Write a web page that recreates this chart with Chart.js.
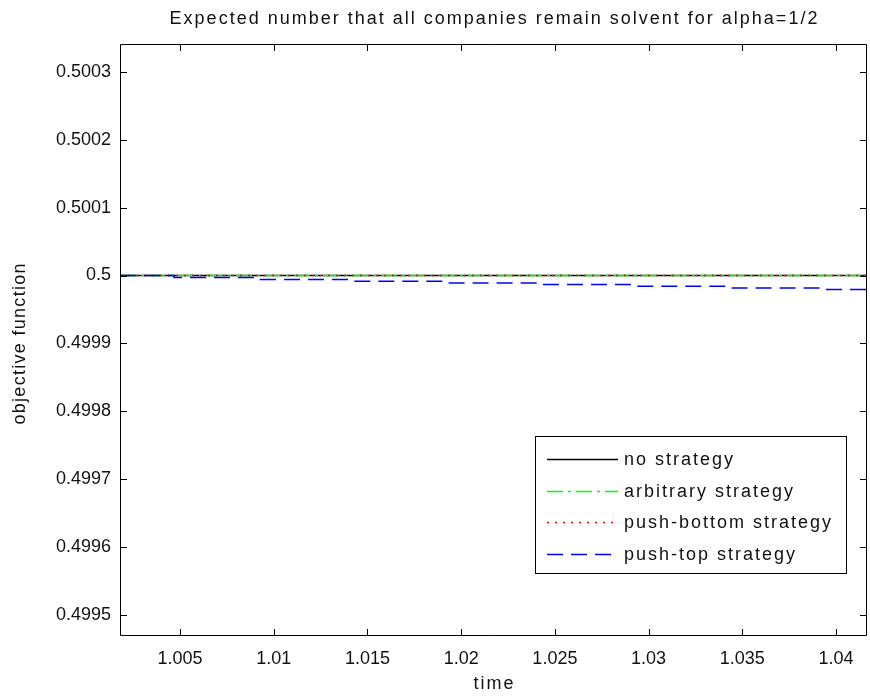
<!DOCTYPE html>
<html>
<head>
<meta charset="utf-8">
<script src="https://cdn.jsdelivr.net/npm/chart.js@4/dist/chart.umd.min.js"></script>
<style>
  html, body { margin: 0; padding: 0; background: #fff; }
  #wrap { width: 870px; height: 696px; }
</style>
</head>
<body>
<div id="wrap"><canvas id="c" width="870" height="696"></canvas></div>
<script>
// ---- data ----
const titleText = 'Expected number that all companies remain solvent for alpha=1/2';
const xAxisLabel = 'time';
const yAxisLabel = 'objective function';
const xRange = [1.0018, 1.04165];
const yRange = [0.499469, 0.500341];

const flatTimes = [1.0018, 1.04165];
const noStrategy = [0.5, 0.5];
const arbitraryStrategy = [0.5, 0.5];
const pushBottomStrategy = [0.5, 0.5];

const pushTopTimes = [1.0018, 1.00468, 1.00927, 1.01418, 1.01914, 1.02426, 1.02917, 1.0343, 1.03942, 1.04165];
const pushTopStrategy = [0.5, 0.4999971, 0.4999941, 0.4999916, 0.4999891, 0.4999867, 0.4999842, 0.4999817, 0.4999794, 0.4999794];

const xTicks = [1.005, 1.01, 1.015, 1.02, 1.025, 1.03, 1.035, 1.04];
const yTicks = [0.4995, 0.4996, 0.4997, 0.4998, 0.4999, 0.5, 0.5001, 0.5002, 0.5003];

const seriesLabels = ['no strategy', 'arbitrary strategy', 'push-bottom strategy', 'push-top strategy'];

const pairs = (xs, ys) => xs.map((x, i) => ({ x: x, y: ys[i] }));
const fmt = (v, d) => String(parseFloat(Number(v).toFixed(d)));

const FONT = 'Arial, "Liberation Sans", Helvetica, sans-serif';
const TXT = '#111';
const TEXT_FONT = '18px ' + FONT;

// draw a string with extra spacing between characters
function spacedText(ctx, text, x, y, align, spacing) {
  const chars = Array.from(text);
  const widths = chars.map(ch => ctx.measureText(ch).width);
  const total = widths.reduce((a, b) => a + b, 0) + spacing * (widths.length - 1);
  let cx = align === 'center' ? x - total / 2 : x;
  ctx.textAlign = 'left';
  chars.forEach((ch, i) => {
    ctx.fillText(ch, cx, y);
    cx += widths[i] + spacing;
  });
}

// MATLAB-like axes box with inward ticks on all four sides, titles and boxed legend
const axesBox = {
  id: 'axesBox',
  afterDatasetsDraw(chart) {
    const { ctx, chartArea: a, scales } = chart;
    const L = 7;
    ctx.save();
    ctx.strokeStyle = '#000';
    ctx.lineWidth = 1;
    ctx.setLineDash([]);
    ctx.beginPath();
    ctx.rect(Math.round(a.left) + 0.5, Math.round(a.top) + 0.5,
             Math.round(a.right - a.left) - 1, Math.round(a.bottom - a.top) - 1);
    scales.x.ticks.forEach(t => {
      const px = Math.round(scales.x.getPixelForValue(t.value)) + 0.5;
      ctx.moveTo(px, a.bottom); ctx.lineTo(px, a.bottom - L);
      ctx.moveTo(px, a.top); ctx.lineTo(px, a.top + L);
    });
    scales.y.ticks.forEach(t => {
      const py = Math.round(scales.y.getPixelForValue(t.value)) + 0.5;
      ctx.moveTo(a.left, py); ctx.lineTo(a.left + L, py);
      ctx.moveTo(a.right, py); ctx.lineTo(a.right - L, py);
    });
    ctx.stroke();

    // titles
    ctx.font = TEXT_FONT;
    ctx.fillStyle = TXT;
    ctx.textBaseline = 'middle';
    const midX = (a.left + a.right) / 2;
    spacedText(ctx, titleText, midX, 19, 'center', 2);
    spacedText(ctx, xAxisLabel, midX, 684, 'center', 2);
    ctx.save();
    ctx.translate(20, (a.top + a.bottom) / 2 + 4);
    ctx.rotate(-Math.PI / 2);
    spacedText(ctx, yAxisLabel, 0, 0, 'center', 1.3);
    ctx.restore();

    // legend
    const bx = 535.5, by = 436.5, bw = 311, bh = 137;
    ctx.fillStyle = '#fff';
    ctx.fillRect(bx, by, bw, bh);
    ctx.strokeStyle = '#000';
    ctx.strokeRect(bx, by, bw, bh);
    const rows = [459, 491, 522, 554];
    chart.data.datasets.forEach((ds, i) => {
      const y = rows[i] + 0.5;
      ctx.save();
      ctx.strokeStyle = ds.borderColor;
      ctx.lineWidth = ds.borderWidth;
      ctx.setLineDash(ds.borderDash || []);
      ctx.beginPath();
      ctx.moveTo(547, y);
      ctx.lineTo(618, y);
      ctx.stroke();
      ctx.restore();
      ctx.font = TEXT_FONT;
      ctx.fillStyle = TXT;
      ctx.textBaseline = 'middle';
      spacedText(ctx, ds.label, 624, rows[i] + 1, 'left', 2);
    });
    ctx.restore();
  }
};

new Chart(document.getElementById('c'), {
  type: 'line',
  data: {
    datasets: [
      { label: seriesLabels[0], data: pairs(flatTimes, noStrategy),
        borderColor: '#000000', borderWidth: 1.5, borderDash: [], pointRadius: 0, order: 3 },
      { label: seriesLabels[1], data: pairs(flatTimes, arbitraryStrategy),
        borderColor: '#00ff00', borderWidth: 1.5, borderDash: [16, 5, 3, 5], pointRadius: 0, order: 2 },
      { label: seriesLabels[2], data: pairs(flatTimes, pushBottomStrategy),
        borderColor: '#ff0000', borderWidth: 1.5, borderDash: [2, 6], pointRadius: 0, order: 1 },
      { label: seriesLabels[3], data: pairs(pushTopTimes, pushTopStrategy),
        borderColor: '#0000ff', borderWidth: 1.5, borderDash: [16, 8], pointRadius: 0, stepped: true, order: 0 }
    ]
  },
  options: {
    responsive: false,
    animation: false,
    devicePixelRatio: 1,
    layout: { padding: { left: 0, right: 3, top: 44, bottom: 0 } },
    plugins: {
      legend: { display: false },
      tooltip: { enabled: false },
      title: { display: false }
    },
    scales: {
      x: {
        type: 'linear', min: xRange[0], max: xRange[1],
        grid: { display: false, drawTicks: false }, border: { display: false },
        afterBuildTicks: s => { s.ticks = xTicks.map(v => ({ value: v })); },
        afterFit: s => { s.height = 60; },
        ticks: { color: TXT, padding: 12, maxRotation: 0, autoSkip: false,
                 font: { family: FONT, size: 18 }, callback: v => fmt(v, 3) }
      },
      y: {
        type: 'linear', min: yRange[0], max: yRange[1],
        grid: { display: false, drawTicks: false }, border: { display: false },
        afterBuildTicks: s => { s.ticks = yTicks.map(v => ({ value: v })); },
        afterFit: s => { s.width = 120; },
        ticks: { color: TXT, padding: 9, autoSkip: false,
                 font: { family: FONT, size: 18 }, callback: v => fmt(v, 4) }
      }
    }
  },
  plugins: [axesBox]
});
</script>
</body>
</html>
